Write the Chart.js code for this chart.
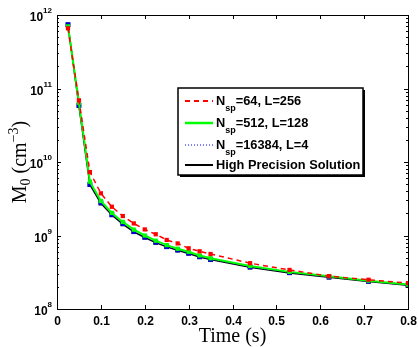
<!DOCTYPE html>
<html>
<head>
<meta charset="utf-8">
<script src="https://cdn.jsdelivr.net/npm/chart.js@4/dist/chart.umd.min.js"></script>
<style>
  html, body { margin: 0; padding: 0; background: #fff; }
  #wrap { width: 418px; height: 347px; }
</style>
</head>
<body>
<div id="wrap"><canvas id="m0Chart" width="418" height="347"></canvas></div>
<script>
// data
const times = [0.025, 0.05, 0.075, 0.1, 0.125, 0.15, 0.175, 0.2, 0.225, 0.25, 0.275, 0.3, 0.325, 0.35, 0.44, 0.53, 0.62, 0.71, 0.8];

const m0Sp64 = [6.6e11, 6.9e10, 7.3e9, 3.75e9, 2.46e9, 1.84e9, 1.46e9, 1.21e9, 1.04e9, 8.7e8, 7.8e8, 6.7e8, 6.1e8, 5.6e8, 4.2e8, 3.4e8, 2.8e8, 2.5e8, 2.25e8];
const m0Sp512 = [7.0e11, 6.4e10, 5.4e9, 2.95e9, 2.03e9, 1.53e9, 1.2e9, 1.0e9, 8.5e8, 7.4e8, 6.6e8, 6.0e8, 5.35e8, 4.9e8, 3.85e8, 3.2e8, 2.78e8, 2.43e8, 2.15e8];
const m0Sp16384 = [7.4e11, 5.9e10, 4.95e9, 2.78e9, 1.92e9, 1.45e9, 1.13e9, 9.5e8, 8.1e8, 7.05e8, 6.35e8, 5.75e8, 5.15e8, 4.72e8, 3.72e8, 3.12e8, 2.72e8, 2.38e8, 2.1e8];
const m0Exact = [7.3e11, 5.8e10, 4.9e9, 2.75e9, 1.9e9, 1.43e9, 1.12e9, 9.4e8, 8.0e8, 7.0e8, 6.3e8, 5.7e8, 5.1e8, 4.7e8, 3.7e8, 3.1e8, 2.7e8, 2.37e8, 2.1e8];

const xTicks = [0, 0.1, 0.2, 0.3, 0.4, 0.5, 0.6, 0.7, 0.8];
const xTickLabels = ["0", "0.1", "0.2", "0.3", "0.4", "0.5", "0.6", "0.7", "0.8"];
const yExponents = [8, 9, 10, 11, 12];

const legendItems = [
  { pre: "N", sub: "sp", post: "=64, L=256", color: "#ff0000", width: 2, dash: [5, 4] },
  { pre: "N", sub: "sp", post: "=512, L=128", color: "#00ff00", width: 2.5, dash: [] },
  { pre: "N", sub: "sp", post: "=16384, L=4", color: "#0000ff", width: 1, dash: [1, 2] },
  { pre: "High Precision Solution", sub: "", post: "", color: "#000000", width: 2, dash: [] },
];

function toPoints(ys) {
  return times.map((t, i) => ({ x: t, y: ys[i] }));
}

const boldFont = "bold 12px 'Liberation Sans', Arial, sans-serif";
const serifFont = "'Liberation Serif', 'Times New Roman', serif";

// ticks, labels, frame and legend in MATLAB style
const matlabAxes = {
  id: "matlabAxes",
  afterDraw(chart) {
    const ctx = chart.ctx;
    const area = chart.chartArea;
    const xs = chart.scales.x;
    const ys = chart.scales.y;

    ctx.save();
    ctx.strokeStyle = "#000";
    ctx.lineWidth = 1;
    ctx.setLineDash([]);

    // frame
    ctx.strokeRect(area.left + 0.5, area.top + 0.5, area.right - area.left, area.bottom - area.top);

    // x ticks (inward, bottom + top)
    ctx.fillStyle = "#000";
    ctx.font = boldFont;
    ctx.textAlign = "center";
    ctx.textBaseline = "top";
    xTicks.forEach((v, i) => {
      const px = Math.round(xs.getPixelForValue(v)) + 0.5;
      ctx.beginPath();
      ctx.moveTo(px, area.bottom);
      ctx.lineTo(px, area.bottom - 4);
      ctx.moveTo(px, area.top);
      ctx.lineTo(px, area.top + 4);
      ctx.stroke();
      ctx.fillText(xTickLabels[i], px, area.bottom + 7);
    });

    // y ticks, major and minor
    yExponents.forEach((e) => {
      const py = Math.round(ys.getPixelForValue(Math.pow(10, e))) + 0.5;
      ctx.beginPath();
      ctx.moveTo(area.left, py);
      ctx.lineTo(area.left + 4, py);
      ctx.moveTo(area.right, py);
      ctx.lineTo(area.right - 4, py);
      ctx.stroke();
      if (e < 12) {
        for (let k = 2; k <= 9; k++) {
          const my = Math.round(ys.getPixelForValue(k * Math.pow(10, e))) + 0.5;
          ctx.beginPath();
          ctx.moveTo(area.left, my);
          ctx.lineTo(area.left + 2, my);
          ctx.moveTo(area.right, my);
          ctx.lineTo(area.right - 2, my);
          ctx.stroke();
        }
      }
      // label 10^e
      ctx.font = "bold 8px 'Liberation Sans', Arial, sans-serif";
      const expText = String(e);
      const expW = ctx.measureText(expText).width;
      ctx.textAlign = "left";
      ctx.textBaseline = "alphabetic";
      const expX = area.left - 5 - expW;
      ctx.fillText(expText, expX, py - 3);
      ctx.font = boldFont;
      ctx.textAlign = "right";
      ctx.fillText("10", expX, py + 5);
    });

    // axis titles
    ctx.textAlign = "center";
    ctx.textBaseline = "alphabetic";
    ctx.font = "20px " + serifFont;
    ctx.fillText("Time (s)", (area.left + area.right) / 2, 342);

    ctx.save();
    ctx.translate(26, (area.top + area.bottom) / 2);
    ctx.rotate(-Math.PI / 2);
    const parts = [
      { t: "M", f: "20px " + serifFont, dy: 0 },
      { t: "0", f: "14px " + serifFont, dy: 4 },
      { t: " (cm", f: "20px " + serifFont, dy: 0 },
      { t: "\u22123", f: "14px " + serifFont, dy: -8 },
      { t: ")", f: "20px " + serifFont, dy: 0 },
    ];
    let total = 0;
    parts.forEach((p) => { ctx.font = p.f; total += ctx.measureText(p.t).width; });
    let cx = -total / 2;
    ctx.textAlign = "left";
    parts.forEach((p) => {
      ctx.font = p.f;
      ctx.fillText(p.t, cx, p.dy);
      cx += ctx.measureText(p.t).width;
    });
    ctx.restore();

    // legend box with shadow
    const lx = 178, ly = 88, lw = 185, lh = 87;
    ctx.fillStyle = "#000";
    ctx.fillRect(lx + 2, ly + 2, lw, lh);
    ctx.fillStyle = "#fff";
    ctx.fillRect(lx, ly, lw, lh);
    ctx.strokeStyle = "#000";
    ctx.lineWidth = 1.5;
    ctx.strokeRect(lx, ly, lw, lh);

    const rowY = [101, 123, 145, 165];
    legendItems.forEach((it, i) => {
      const y = rowY[i];
      ctx.strokeStyle = it.color;
      ctx.lineWidth = it.width;
      ctx.setLineDash(it.dash);
      ctx.beginPath();
      ctx.moveTo(185, y);
      ctx.lineTo(213, y);
      ctx.stroke();
      ctx.setLineDash([]);
      ctx.fillStyle = "#000";
      ctx.textAlign = "left";
      ctx.textBaseline = "alphabetic";
      let tx = 216;
      ctx.font = "bold 12.8px 'Liberation Sans', Arial, sans-serif";
      ctx.fillText(it.pre, tx, y + 4);
      tx += ctx.measureText(it.pre).width;
      if (it.sub) {
        ctx.font = "bold 9px 'Liberation Sans', Arial, sans-serif";
        ctx.fillText(it.sub, tx, y + 10);
        tx += ctx.measureText(it.sub).width;
        ctx.font = "bold 12.8px 'Liberation Sans', Arial, sans-serif";
        ctx.fillText(it.post, tx, y + 4);
      }
    });

    ctx.restore();
  },
};

const ctx = document.getElementById("m0Chart");

const m0Chart = new Chart(ctx, {
  type: "line",
  data: {
    datasets: [
      {
        label: "Nsp=64, L=256",
        data: toPoints(m0Sp64),
        borderColor: "#ff0000",
        backgroundColor: "#ff0000",
        borderWidth: 1.5,
        borderDash: [5, 4],
        pointStyle: "rect",
        pointRadius: 3,
        pointBorderWidth: 0,
      },
      {
        label: "Nsp=512, L=128",
        data: toPoints(m0Sp512),
        borderColor: "#00ff00",
        backgroundColor: "#00ff00",
        borderWidth: 2,
        pointStyle: "rect",
        pointRadius: 3,
        pointBorderWidth: 0,
      },
      {
        label: "Nsp=16384, L=4",
        data: toPoints(m0Sp16384),
        borderColor: "#0000ff",
        backgroundColor: "#0000cc",
        borderWidth: 1,
        borderDash: [1, 2],
        pointStyle: "rect",
        pointRadius: 3.5,
        pointBorderWidth: 0,
      },
      {
        label: "High Precision Solution",
        data: toPoints(m0Exact),
        borderColor: "#000000",
        backgroundColor: "#000000",
        borderWidth: 1.5,
        pointStyle: "rect",
        pointRadius: 3,
        pointBorderWidth: 0,
      },
    ],
  },
  options: {
    responsive: false,
    animation: false,
    layout: {
      padding: { left: 57, right: 10, top: 15, bottom: 38 },
    },
    plugins: {
      legend: { display: false },
      tooltip: { enabled: false },
    },
    scales: {
      x: {
        type: "linear",
        min: 0,
        max: 0.8,
        display: false,
      },
      y: {
        type: "logarithmic",
        min: 1e8,
        max: 1e12,
        display: false,
      },
    },
  },
  plugins: [matlabAxes],
});
</script>
</body>
</html>
